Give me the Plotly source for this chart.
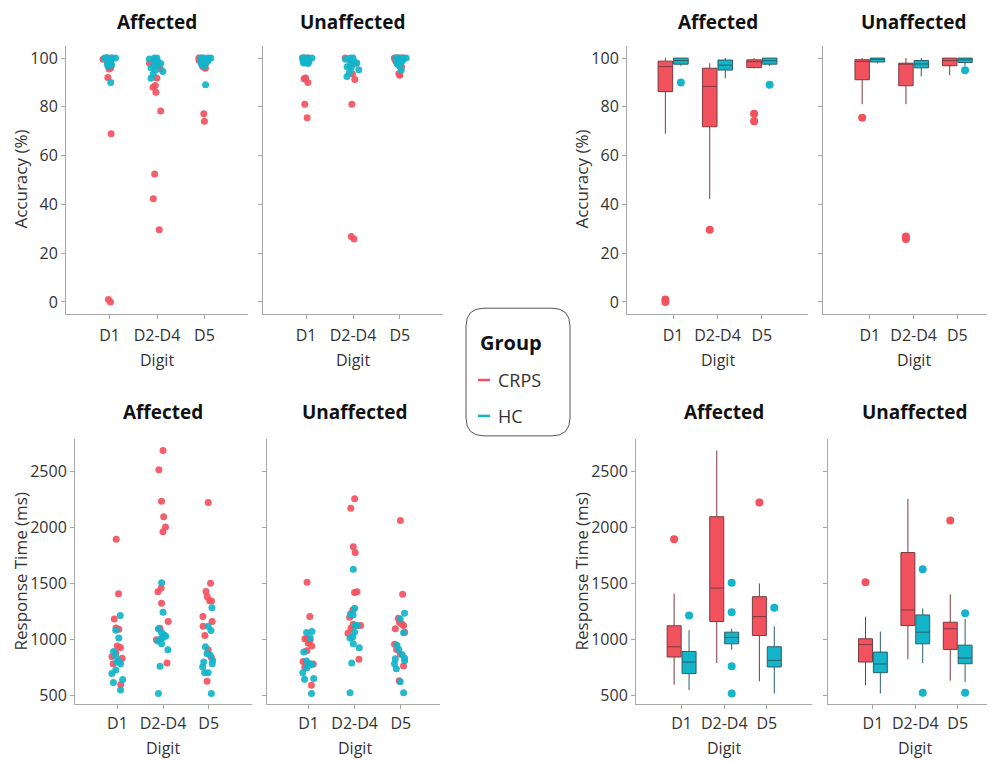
import numpy as np
import plotly.graph_objects as go

# ---------------- data ----------------
digits = ["D1", "D2-D4", "D5"]

# Accuracy (%) - Affected side
acc_aff_crps = [[0, 1, 69, 92, 95.5, 96, 97, 97.5, 98.5, 99.5, 100, 100],
                [29.6, 42.3, 52.5, 78.3, 86, 88, 88.8, 91.8, 95.5, 96.9, 97.5, 97.9],
                [74.1, 77.2, 95.8, 96.2, 96.6, 98, 99, 99, 99.2, 99.5, 100, 100]]
acc_aff_hc = [[90, 96.8, 97.2, 97.5, 98.5, 99, 99, 99.5, 100, 100, 100, 100, 100],
              [91.7, 93.5, 94.5, 95.1, 96, 96.8, 97.1, 97.8, 98.5, 99.2, 99.6, 100, 100],
              [89.1, 96.8, 97.2, 97.5, 98, 98.5, 98.9, 99.3, 99.6, 100, 100, 100, 100]]
# Accuracy (%) - Unaffected side
acc_unaff_crps = [[75.5, 81.1, 90, 91.5, 91.8, 98.2, 99, 99.2, 99.3, 99.5, 100, 100],
                  [25.8, 26.9, 81.1, 91.2, 93.5, 97.2, 97.8, 97.9, 97.9, 98, 99, 100],
                  [93, 93.6, 96.5, 97, 98, 98.8, 99.2, 99.8, 100, 100, 100, 100]]
acc_unaff_hc = [[97.8, 98, 98.4, 98.4, 99, 99.3, 99.5, 99.8, 100, 100, 100, 100, 100],
                [92.5, 94, 95.2, 96, 96.5, 97, 97.6, 98, 98.5, 99, 99.5, 100, 100],
                [95, 96.8, 97.5, 98.2, 98.8, 99, 99.3, 99.6, 100, 100, 100, 100, 100]]
# Response time (ms) - Affected side
rt_aff_crps = [[595, 780, 830, 845, 880, 925, 940, 1090, 1100, 1180, 1407, 1893],
               [787, 995, 1099, 1158, 1321, 1424, 1457, 1961, 2002, 2094, 2233, 2515, 2687],
               [624, 838, 906, 1033, 1116, 1158, 1202, 1341, 1344, 1380, 1427, 1499, 2221]]
rt_aff_hc = [[547, 613, 640, 693, 725, 781, 796, 802, 850, 891, 1010, 1081, 1211],
             [515, 758, 906, 959, 983, 1004, 1016, 1027, 1039, 1063, 1093, 1241, 1504],
             [515, 701, 701, 752, 781, 796, 811, 861, 873, 933, 1078, 1116, 1282]]
# Response time (ms) - Unaffected side
rt_unaff_crps = [[589, 750, 779, 802, 897, 940, 965, 990, 1004, 1004, 1202, 1510],
                 [820, 1054, 1099, 1122, 1134, 1196, 1261, 1418, 1424, 1774, 1827, 2171, 2254],
                 [630, 761, 867, 909, 956, 1063, 1093, 1122, 1137, 1152, 1187, 1401, 2061]]
rt_unaff_hc = [[515, 642, 648, 701, 746, 775, 779, 781, 805, 885, 1010, 1060, 1069],
               [521, 787, 924, 959, 1010, 1019, 1063, 1122, 1122, 1217, 1226, 1276, 1626],
               [521, 619, 737, 781, 808, 826, 832, 861, 909, 947, 1057, 1181, 1232]]

acc_ticks = [0, 20, 40, 60, 80, 100]
rt_ticks = [500, 1000, 1500, 2000, 2500]

# ---------------- style ----------------
OFF = 8                      # default page body margin of the written html
W, H = 995 - OFF, 762 - OFF
FONT = "Open Sans"
CRPS_COLOR = "#F2525E"
HC_COLOR = "#14B4CB"
CRPS_LINE = "#7A3A3F"
HC_LINE = "#2B5F66"
AXIS_COLOR = "#A8A8A8"
TEXT = "#333333"


def px(x):
    return (x - OFF) / W


def py(y):
    return 1 - (y - OFF) / H


# panel -> pixel domains (page coordinates) and ranges
panels = {
    1: dict(xd=(66, 248), yd=(46, 315), xr=(-0.92, 2.92), yr=(-5, 105)),
    2: dict(xd=(263, 443), yd=(46, 315), xr=(-0.92, 2.92), yr=(-5, 105)),
    3: dict(xd=(75, 252), yd=(440, 706), xr=(-0.93, 2.95), yr=(420, 2790)),
    4: dict(xd=(267, 440), yd=(440, 706), xr=(-0.9, 2.85), yr=(420, 2790)),
    5: dict(xd=(627, 808), yd=(46, 315), xr=(-1.04, 3.04), yr=(-5, 105)),
    6: dict(xd=(823, 995), yd=(46, 315), xr=(-1.07, 2.86), yr=(-5, 105)),
    7: dict(xd=(636, 812), yd=(440, 706), xr=(-1.07, 3.06), yr=(420, 2790)),
    8: dict(xd=(828, 995), yd=(440, 706), xr=(-1.06, 2.88), yr=(420, 2790)),
}


def axnames(i):
    return ("x", "y") if i == 1 else (f"x{i}", f"y{i}")


def strip_trace(values, color, ax, name, jitter):
    xs = [d for d, vals in zip(digits, values) for _ in vals]
    ys = [v for vals in values for v in vals]
    xa, ya = axnames(ax)
    return go.Box(x=xs, y=ys, xaxis=xa, yaxis=ya, name=name,
                  boxpoints="all", jitter=jitter, pointpos=0,
                  fillcolor="rgba(0,0,0,0)",
                  line=dict(color="rgba(0,0,0,0)", width=0),
                  marker=dict(color=color, size=7, opacity=0.92),
                  offsetgroup="strip", alignmentgroup=f"s{ax}",
                  hoveron="points", showlegend=False)


def box_stats(values):
    q1, med, q3, lf, uf = [], [], [], [], []
    for vals in values:
        a = np.asarray(vals, dtype=float)
        a1, m, a3 = np.percentile(a, [25, 50, 75])
        iqr = a3 - a1
        q1.append(a1)
        med.append(m)
        q3.append(a3)
        lf.append(a[a >= a1 - 1.5 * iqr].min())
        uf.append(a[a <= a3 + 1.5 * iqr].max())
    return q1, med, q3, lf, uf


def box_trace(values, color, line_color, ax, name):
    q1, med, q3, lf, uf = box_stats(values)
    xa, ya = axnames(ax)
    return go.Box(x=digits, q1=q1, median=med, q3=q3, lowerfence=lf, upperfence=uf,
                  y=values, xaxis=xa, yaxis=ya, name=name,
                  boxpoints="outliers", pointpos=0, jitter=0,
                  fillcolor=color, line=dict(color=line_color, width=1),
                  whiskerwidth=0,
                  marker=dict(color=color, size=8, line=dict(width=0)),
                  offsetgroup=name, alignmentgroup=f"b{ax}", showlegend=False)


fig = go.Figure()

# strip panels (left)
fig.add_trace(strip_trace(acc_aff_crps, CRPS_COLOR, 1, "CRPS", 0.6))
fig.add_trace(strip_trace(acc_aff_hc, HC_COLOR, 1, "HC", 0.6))
fig.add_trace(strip_trace(acc_unaff_crps, CRPS_COLOR, 2, "CRPS", 0.6))
fig.add_trace(strip_trace(acc_unaff_hc, HC_COLOR, 2, "HC", 0.6))
fig.add_trace(strip_trace(rt_aff_crps, CRPS_COLOR, 3, "CRPS", 0.45))
fig.add_trace(strip_trace(rt_aff_hc, HC_COLOR, 3, "HC", 0.45))
fig.add_trace(strip_trace(rt_unaff_crps, CRPS_COLOR, 4, "CRPS", 0.45))
fig.add_trace(strip_trace(rt_unaff_hc, HC_COLOR, 4, "HC", 0.45))

# box panels (right)
fig.add_trace(box_trace(acc_aff_crps, CRPS_COLOR, CRPS_LINE, 5, "CRPS"))
fig.add_trace(box_trace(acc_aff_hc, HC_COLOR, HC_LINE, 5, "HC"))
fig.add_trace(box_trace(acc_unaff_crps, CRPS_COLOR, CRPS_LINE, 6, "CRPS"))
fig.add_trace(box_trace(acc_unaff_hc, HC_COLOR, HC_LINE, 6, "HC"))
fig.add_trace(box_trace(rt_aff_crps, CRPS_COLOR, CRPS_LINE, 7, "CRPS"))
fig.add_trace(box_trace(rt_aff_hc, HC_COLOR, HC_LINE, 7, "HC"))
fig.add_trace(box_trace(rt_unaff_crps, CRPS_COLOR, CRPS_LINE, 8, "CRPS"))
fig.add_trace(box_trace(rt_unaff_hc, HC_COLOR, HC_LINE, 8, "HC"))

layout = dict(
    width=W, height=H, margin=dict(l=0, r=0, t=0, b=0),
    paper_bgcolor="white", plot_bgcolor="white",
    boxmode="group", boxgap=0.3, boxgroupgap=0.06,
    showlegend=False,
    font=dict(family=FONT, color=TEXT, size=16),
)

annotations = []
for i, p in panels.items():
    xk = "xaxis" if i == 1 else f"xaxis{i}"
    yk = "yaxis" if i == 1 else f"yaxis{i}"
    xa, ya = axnames(i)
    is_acc = p["yr"][1] < 200
    top_row = p["yd"][0] < 100
    layout[xk] = dict(
        domain=[px(p["xd"][0]), min(1.0, px(p["xd"][1]))], anchor=ya,
        type="category", categoryorder="array", categoryarray=digits,
        range=list(p["xr"]), showline=True, linecolor=AXIS_COLOR, linewidth=1,
        ticks="outside", ticklen=4, tickcolor=AXIS_COLOR,
        ticklabelstandoff=3 if top_row else 1,
        tickfont=dict(size=16, color=TEXT, family=FONT),
        showgrid=False, zeroline=False, fixedrange=True,
    )
    layout[yk] = dict(
        domain=[py(p["yd"][1]), py(p["yd"][0])], anchor=xa,
        range=list(p["yr"]), tickvals=acc_ticks if is_acc else rt_ticks,
        showline=True, linecolor=AXIS_COLOR, linewidth=1,
        ticks="outside", ticklen=4, tickcolor=AXIS_COLOR,
        showticklabels=(i in (1, 3, 5, 7)),
        tickfont=dict(size=16, color=TEXT, family=FONT),
        showgrid=False, zeroline=False, fixedrange=True,
    )
    # centre of the middle category, in page pixels
    x0, x1 = p["xd"]
    r0, r1 = p["xr"]
    cx = x0 + (1 - r0) / (r1 - r0) * (x1 - x0)
    annotations.append(dict(text="<b>%s</b>" % ("Affected" if i in (1, 3, 5, 7) else "Unaffected"),
                            x=px(cx), y=py(22 if top_row else 413), xref="paper", yref="paper",
                            showarrow=False, xanchor="center", yanchor="middle",
                            font=dict(size=19, color="#111111", family=FONT)))
    annotations.append(dict(text="Digit", x=px(cx), y=py(361 if top_row else 750),
                            xref="paper", yref="paper",
                            showarrow=False, xanchor="center", yanchor="middle",
                            font=dict(size=16, color=TEXT, family=FONT)))

# y axis titles
for xpix, ypix, txt in [(21, 180, "Accuracy (%)"), (21, 573, "Response Time (ms)"),
                        (582, 180, "Accuracy (%)"), (582, 573, "Response Time (ms)")]:
    annotations.append(dict(text=txt, x=px(xpix), y=py(ypix), xref="paper", yref="paper",
                            showarrow=False, textangle=-90, xanchor="center", yanchor="middle",
                            font=dict(size=17, color=TEXT, family=FONT)))

# legend (manual, rounded box)
lx0, lx1, ly0, ly1, r = 466, 570, 309, 437, 18
rx, ry = r / W, r / H
X0, X1, Y0, Y1 = px(lx0), px(lx1), py(ly1), py(ly0)
path = (f"M {X0 + rx},{Y0} L {X1 - rx},{Y0} Q {X1},{Y0} {X1},{Y0 + ry} "
        f"L {X1},{Y1 - ry} Q {X1},{Y1} {X1 - rx},{Y1} L {X0 + rx},{Y1} "
        f"Q {X0},{Y1} {X0},{Y1 - ry} L {X0},{Y0 + ry} Q {X0},{Y0} {X0 + rx},{Y0} Z")
shapes = [dict(type="path", path=path, xref="paper", yref="paper",
               line=dict(color="#555555", width=1), fillcolor="white")]
for yy, col, lab in [(381, CRPS_COLOR, "CRPS"), (417, HC_COLOR, "HC")]:
    shapes.append(dict(type="line", xref="paper", yref="paper",
                       x0=px(478), x1=px(490), y0=py(yy), y1=py(yy),
                       line=dict(color=col, width=2.5)))
    annotations.append(dict(text=lab, x=px(496), y=py(yy), xref="paper", yref="paper",
                            showarrow=False, xanchor="left", yanchor="middle",
                            font=dict(size=18, color=TEXT, family=FONT)))
annotations.append(dict(text="<b>Group</b>", x=px(511), y=py(343), xref="paper", yref="paper",
                        showarrow=False, xanchor="center", yanchor="middle",
                        font=dict(size=20, color="#111111", family=FONT)))

layout["annotations"] = annotations
layout["shapes"] = shapes
fig.update_layout(**layout)

fig.write_html("out.html")
